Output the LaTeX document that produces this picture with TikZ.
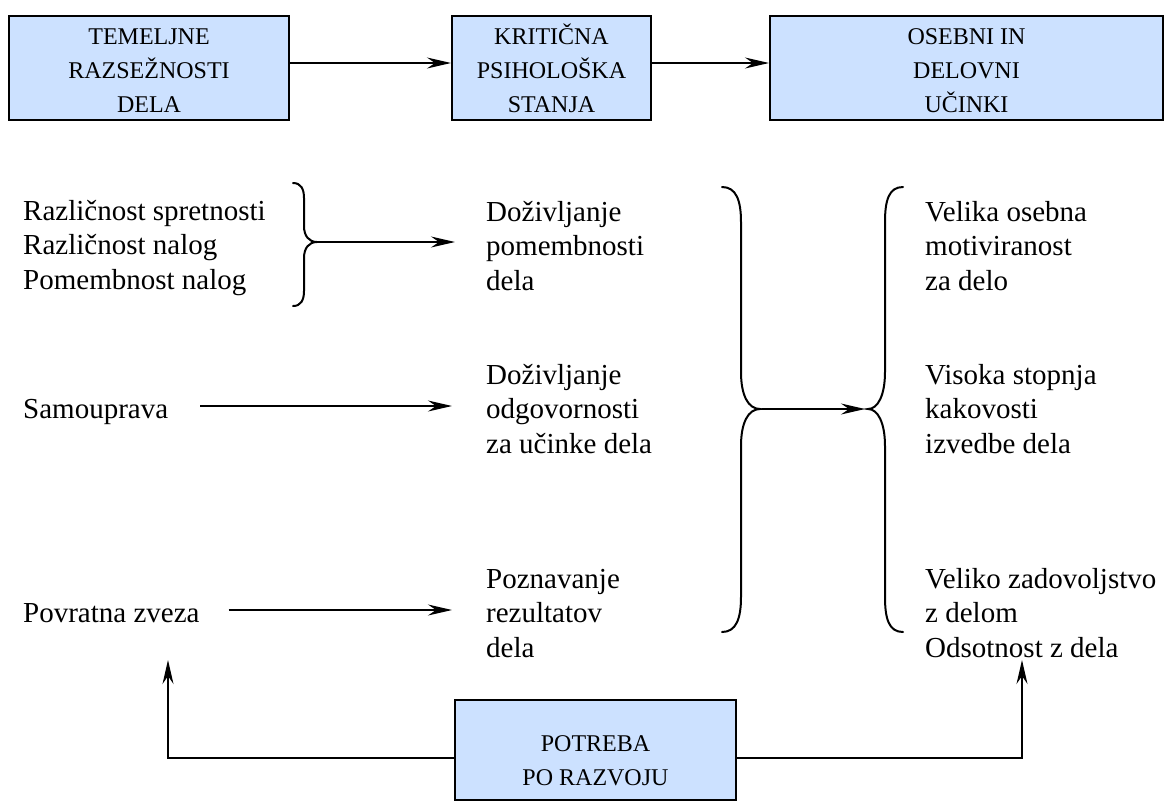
\documentclass[tikz,border=0pt]{standalone}
\usepackage{fontspec}
\setmainfont{Liberation Serif}
\usetikzlibrary{arrows.meta,calc}
\definecolor{boxblue}{RGB}{204,225,255}
% multi-line text block whose baseline is its first line
\newcommand{\lines}[1]{\begin{tabular}[t]{@{}l@{}}#1\end{tabular}}
% centred box label, lowered without changing its reported size
\newcommand{\boxlabel}[2]{\raisebox{-#1}[\height][\depth]{\begin{tabular}{@{}c@{}}#2\end{tabular}}}
\begin{document}
\begin{tikzpicture}[x=1pt,y=-1pt,
  box/.style={draw, line width=2pt, fill=boxblue, inner sep=0pt,
    font=\rmfamily\fontsize{24pt}{34pt}\selectfont},
  txt/.style={anchor=base west, inner sep=0pt,
    font=\rmfamily\fontsize{29pt}{34.5pt}\selectfont},
  arr/.style={-{Stealth[length=24pt,width=11pt,inset=8pt]}, line width=1.3pt},
  brace/.style={line width=2pt, line cap=round},
]
\useasboundingbox (0,0) rectangle (1171,807);

% top row of boxes
\node[box, minimum width=280pt, minimum height=104pt] (b1) at (149,68) {\boxlabel{4pt}{TEMELJNE\\RAZSEŽNOSTI\\DELA}};
\node[box, minimum width=199pt, minimum height=104pt] (b2) at (551.5,68) {\boxlabel{4pt}{KRITIČNA\\PSIHOLOŠKA\\STANJA}};
\node[box, minimum width=393pt, minimum height=104pt] (b3) at (966.5,68) {\boxlabel{4pt}{OSEBNI IN\\DELOVNI\\UČINKI}};
\draw[arr] ([yshift=5pt]b1.east) -- ([yshift=5pt]b2.west);
\draw[arr] ([yshift=5pt]b2.east) -- ([yshift=5pt]b3.west);

% left column
\node[txt] (l1) at (23,220) {\lines{Različnost spretnosti\\Različnost nalog\\Pomembnost nalog}};
\node[txt] (samo) at (23,418) {Samouprava};
\node[txt] (povr) at (23,622) {Povratna zveza};

% middle column
\node[txt] (d1) at (486,221) {\lines{Doživljanje\\pomembnosti\\dela}};
\node[txt] (d2) at (486,384) {\lines{Doživljanje\\odgovornosti\\za učinke dela}};
\node[txt] (d3) at (486,588) {\lines{Poznavanje\\rezultatov\\dela}};

% right column
\node[txt] (r1) at (925,221) {\lines{Velika osebna\\motiviranost\\za delo}};
\node[txt] (r2) at (925,384) {\lines{Visoka stopnja\\kakovosti\\izvedbe dela}};
\node[txt] (r3) at (925,588) {\lines{Veliko zadovoljstvo\\z delom\\Odsotnost z dela}};

% small brace after the first group
\coordinate (tA) at (317,242);
\draw[brace] (293,183) .. controls (301,183) and (304,189) .. (304,198) -- (304,226)
  .. controls (304,236) and (309,242) .. (tA)
  .. controls (309,242) and (304,248) .. (304,258) -- (304,291)
  .. controls (304,300) and (301,306) .. (293,306);

% large closing brace
\coordinate (tB) at (760,409);
\draw[brace] (722,187) .. controls (736,187) and (741,200) .. (741,222) -- (741,372)
  .. controls (741,395) and (748,409) .. (tB)
  .. controls (748,409) and (741,423) .. (741,446) -- (741,597)
  .. controls (741,619) and (736,632) .. (722,632);

% large opening brace
\coordinate (tC) at (868,409);
\draw[brace] (903,187) .. controls (889,187) and (885,200) .. (885,222) -- (885,372)
  .. controls (885,395) and (878,409) .. (tC)
  .. controls (878,409) and (885,423) .. (885,446) -- (885,597)
  .. controls (885,619) and (889,632) .. (903,632);

% horizontal connectors
\draw[arr, shorten >=31pt] (tA) -- (tA -| d1.west);
\coordinate (s0) at ([yshift=12pt]samo.base east);
\draw[arr, shorten <=32pt, shorten >=34pt] (s0) -- (s0 -| d2.west);
\coordinate (p0) at ([yshift=12pt]povr.base east);
\draw[arr, shorten <=29pt, shorten >=34pt] (p0) -- (p0 -| d3.west);
\draw[arr, shorten <=2pt, shorten >=3pt] (tB) -- (tC);

% bottom box with feedback arrows
\node[box, minimum width=281pt, minimum height=100pt] (pb) at (595.5,750) {\boxlabel{12pt}{POTREBA\\PO RAZVOJU}};
\coordinate (uL) at (168,660);
\coordinate (uR) at (1022,660);
\draw[arr] ([yshift=-8pt]pb.west) -| (uL);
\draw[arr] ([yshift=-8pt]pb.east) -| (uR);
\end{tikzpicture}
\end{document}
